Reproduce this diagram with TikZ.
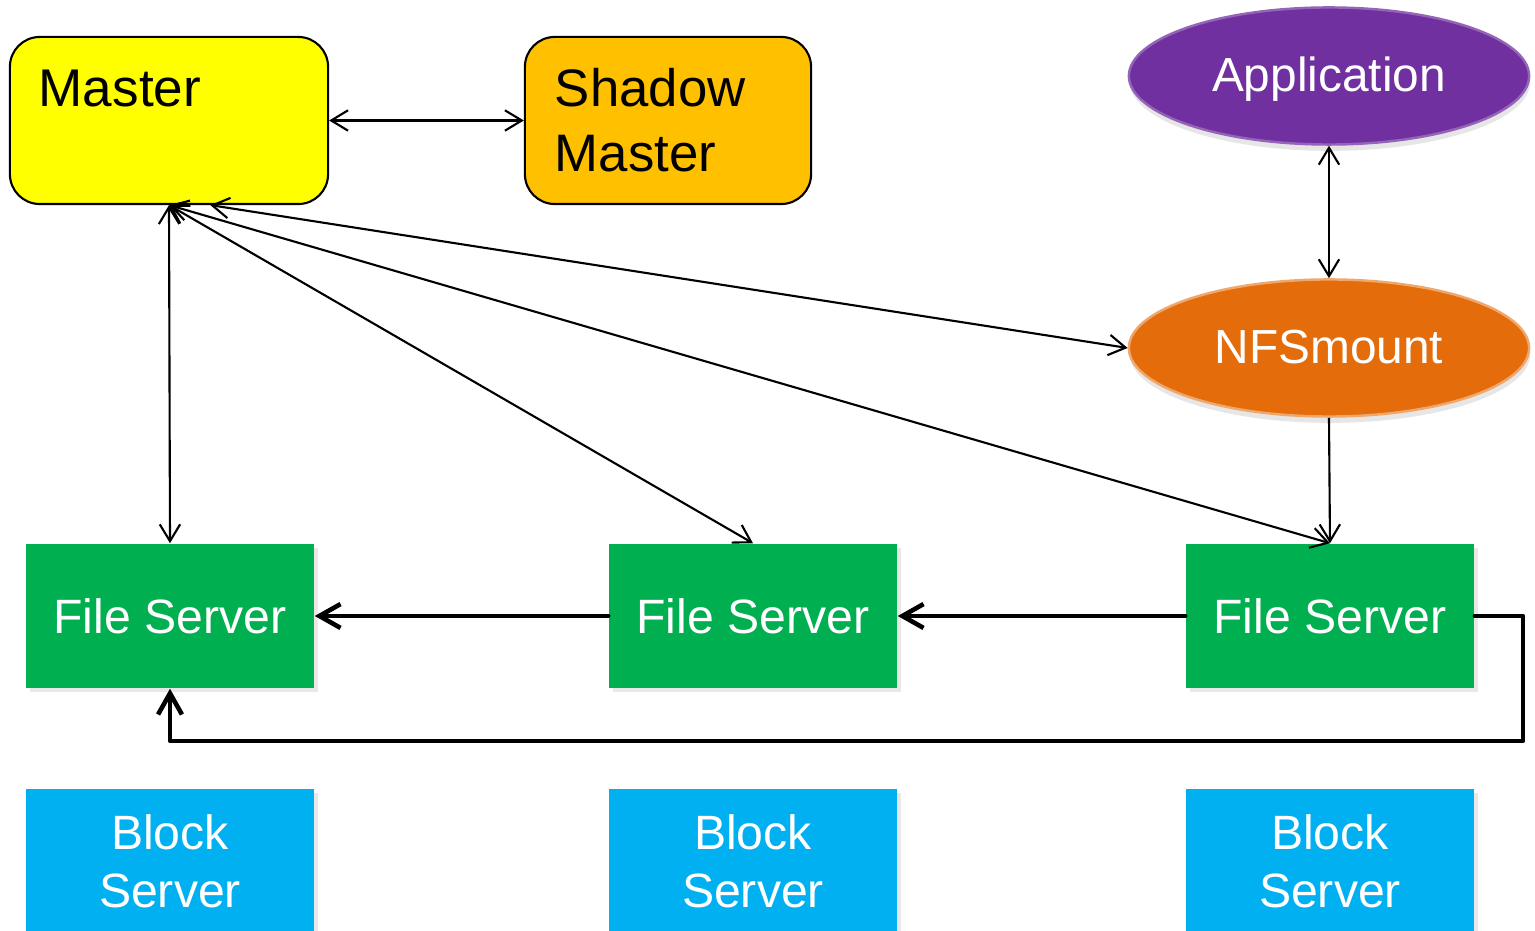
\documentclass[tikz,border=0pt]{standalone}
\usepackage{fontspec}
\setmainfont{Liberation Sans}
\usetikzlibrary{arrows.meta,shapes.geometric,shadows}

\definecolor{masteryellow}{HTML}{FFFF00}
\definecolor{shadoworange}{HTML}{FFC000}
\definecolor{apppurple}{HTML}{7030A0}
\definecolor{nfsorange}{HTML}{E46C0A}
\definecolor{fsgreen}{HTML}{00B050}
\definecolor{bscyan}{HTML}{00B0F0}

\begin{document}
\begin{tikzpicture}[x=0.01cm, y=-0.01cm,
  rbox/.style={draw=black, line width=0.6pt, rounded corners=8.5pt,
    minimum height=1.67cm, inner sep=0pt},
  oval/.style={ellipse, minimum width=4cm, minimum height=1.37cm, inner sep=0pt,
    line width=0.7pt, text=white, font=\fontsize{13.6}{16}\selectfont,
    text height=12pt, text depth=2.9pt,
    drop shadow={shadow xshift=0.3pt, shadow yshift=-1.8pt, opacity=0.2}},
  server/.style={rectangle, minimum width=2.88cm, minimum height=1.44cm,
    inner sep=0pt, text=white, align=center,
    drop shadow={shadow xshift=1.1pt, shadow yshift=-1.1pt, opacity=0.18}},
  link/.style={line width=0.6pt,
    {Straight Barb[length=4.8pt,width=5.8pt]}-{Straight Barb[length=4.8pt,width=5.8pt]}},
  oneway/.style={line width=0.6pt, -{Straight Barb[length=4.8pt,width=5.8pt]}},
  flow/.style={line width=1.3pt, line cap=round, line join=round,
    -{Straight Barb[length=6pt,width=6.8pt]}}]

  \useasboundingbox (0,0) rectangle (1535,931);

  % Masters
  \node[rbox, fill=masteryellow, minimum width=3.18cm] (master) at (169,120.5) {};
  \node[anchor=base west, inner sep=0pt, font=\fontsize{15.1}{18.5}\selectfont]
    (mastertxt) at (38,107) {Master};
  \node[rbox, fill=shadoworange, minimum width=2.86cm, text width=2.26cm, align=left,
    font=\fontsize{15}{18.5}\selectfont] (shadow) at (668,120.5) {Shadow\\Master};

  % Client side
  \node[oval, fill=apppurple, draw=apppurple!75!white] (app) at (1329,76) {Application};
  \node[oval, fill=nfsorange, draw=nfsorange!60!white] (nfs) at (1329,348) {NFSmount};

  % File servers
  \node[server, fill=fsgreen, font=\fontsize{13.7}{16}\selectfont] (fs1) at (170,616) {File Server};
  \node[server, fill=fsgreen, font=\fontsize{13.7}{16}\selectfont] (fs2) at (753,616) {File Server};
  \node[server, fill=fsgreen, font=\fontsize{13.7}{16}\selectfont] (fs3) at (1330,616) {File Server};

  % Block servers
  \node[server, fill=bscyan, font=\fontsize{13.7}{16.5}\selectfont] (bs1) at (170,861) {Block\\Server};
  \node[server, fill=bscyan, font=\fontsize{13.7}{16.5}\selectfont] (bs2) at (753,861) {Block\\Server};
  \node[server, fill=bscyan, font=\fontsize{13.7}{16.5}\selectfont] (bs3) at (1330,861) {Block\\Server};

  % Master links
  \draw[link] (master) -- (shadow);
  \draw[link] (master.south) -- (fs1.north);
  \draw[link] (master.south) -- (fs2.north);
  \draw[link] (master.south) -- (fs3.north);
  \draw[link] (master.-64) -- (nfs.west);

  % Client links
  \draw[link] (app.south) -- (nfs.north);
  \draw[oneway] (nfs.south) -- (fs3.north);

  % Chain between file servers
  \coordinate (loop) at (1523,741);
  \draw[flow] (fs2.west) -- (fs1.east);
  \draw[flow] (fs3.west) -- (fs2.east);
  \draw[flow] (fs3.east) -| (loop) -| (fs1.south);
\end{tikzpicture}
\end{document}
